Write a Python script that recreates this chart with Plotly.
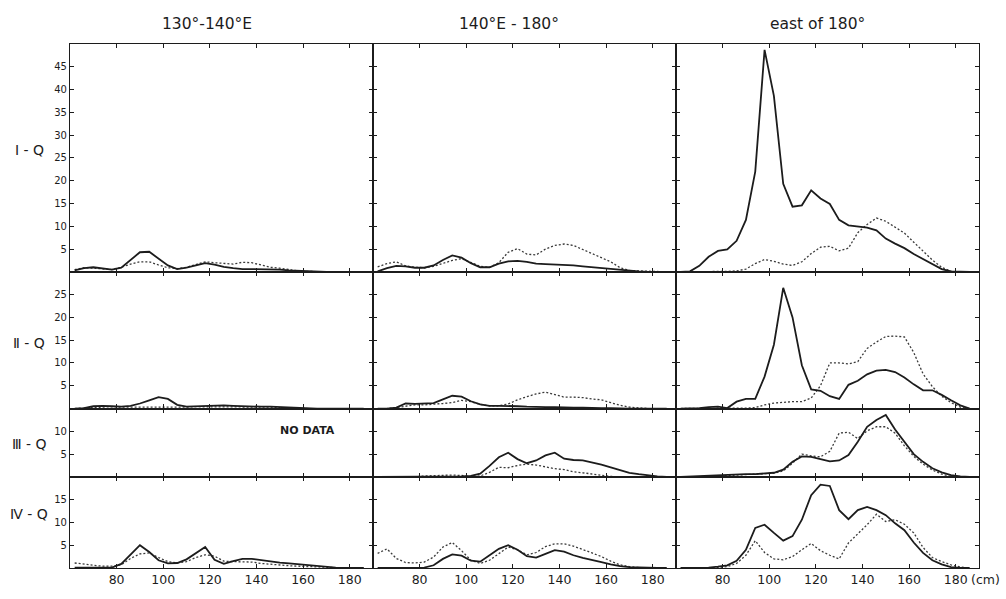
import plotly.graph_objects as go

# Body length classes (cm) at which the frequencies are tabulated
LENGTH_CM = [62, 66, 70, 74, 78, 82, 86, 90, 94, 98, 102, 106, 110, 114, 118, 122,
             126, 130, 134, 138, 142, 146, 150, 154, 158, 162, 166, 170, 174, 178, 182, 186]

COLUMN_TITLES = ["130°-140°E", "140°E - 180°", "east of 180°"]
ROW_TITLES = ["Ⅰ - Q", "Ⅱ - Q", "Ⅲ - Q", "Ⅳ - Q"]
ROW_MAX = [50, 30, 15, 20]
ROW_TICKS = [[5, 10, 15, 20, 25, 30, 35, 40, 45],
             [5, 10, 15, 20, 25],
             [5, 10],
             [5, 10, 15]]
X_TICKS = [80, 100, 120, 140, 160, 180]

# ---- quarter I ----
q1_w_solid = [0.3, 0.8, 1.0, 0.7, 0.5, 0.9, 2.6, 4.3, 4.4, 2.9, 1.4, 0.6, 0.9, 1.4, 1.9, 1.6,
              1.1, 0.8, 0.6, 0.6, 0.6, 0.6, 0.5, 0.3, 0.2, 0.1, 0, 0, 0, 0, 0, 0]
q1_w_dotted = [0.5, 0.9, 0.8, 0.6, 0.5, 1.0, 1.7, 2.2, 2.2, 1.5, 0.9, 0.7, 1.0, 1.6, 2.2, 2.0,
               1.8, 1.7, 2.1, 2.0, 1.5, 1.0, 0.8, 0.5, 0.2, 0.1, 0, 0, 0, 0, 0, 0]
q1_m_solid = [0.1, 0.8, 1.3, 1.2, 0.9, 0.9, 1.4, 2.6, 3.6, 3.1, 1.9, 1.0, 1.0, 1.8, 2.3, 2.4,
              2.2, 1.8, 1.7, 1.6, 1.6, 1.4, 1.2, 1.0, 0.8, 0.6, 0.4, 0.2, 0.1, 0, 0, 0]
q1_m_dotted = [1.1, 1.8, 2.2, 1.3, 1.0, 0.9, 1.2, 1.9, 2.5, 2.9, 2.1, 1.2, 1.0, 2.0, 4.3, 5.1,
               3.9, 3.7, 5.0, 5.8, 6.1, 5.8, 4.9, 4.0, 3.2, 2.2, 0.9, 0.3, 0.2, 0.1, 0, 0]
q1_e_solid = [0, 0.1, 1.3, 3.3, 4.6, 4.9, 6.8, 11.4, 22.0, 48.7, 38.6, 19.3, 14.3, 14.6, 17.9, 16.1,
              14.9, 11.4, 10.2, 10.0, 9.7, 9.1, 7.3, 6.2, 5.2, 3.9, 2.8, 1.6, 0.6, 0.1, 0, 0]
q1_e_dotted = [0, 0, 0, 0, 0.1, 0.1, 0.2, 0.6, 1.8, 2.7, 2.3, 1.7, 1.4, 2.2, 4.0, 5.4,
               5.6, 4.6, 5.2, 8.6, 10.4, 11.8, 11.1, 9.8, 8.5, 6.5, 4.6, 2.6, 1.0, 0.1, 0, 0]

# ---- quarter II ----
q2_w_solid = [0, 0.1, 0.5, 0.6, 0.5, 0.4, 0.6, 1.1, 1.8, 2.5, 2.1, 0.8, 0.4, 0.5, 0.6, 0.7,
              0.7, 0.6, 0.5, 0.5, 0.4, 0.4, 0.3, 0.2, 0.1, 0, 0, 0, 0, 0, 0, 0]
q2_w_dotted = [0, 0.1, 0.3, 0.4, 0.4, 0.3, 0.3, 0.3, 0.3, 0.3, 0.3, 0.2, 0.3, 0.4, 0.4, 0.4,
               0.4, 0.4, 0.4, 0.3, 0.3, 0.3, 0.2, 0.1, 0.1, 0, 0, 0, 0, 0, 0, 0]
q2_m_solid = [0, 0, 0.2, 1.1, 1.0, 1.1, 1.2, 2.0, 2.8, 2.6, 1.6, 0.9, 0.6, 0.6, 0.6, 0.5,
              0.4, 0.3, 0.3, 0.3, 0.2, 0.2, 0.2, 0.1, 0.1, 0.1, 0, 0, 0, 0, 0, 0]
q2_m_dotted = [0, 0, 0.2, 0.5, 0.8, 0.8, 0.9, 1.1, 1.3, 1.8, 1.5, 0.9, 0.6, 0.6, 1.0, 1.9,
               2.6, 3.2, 3.6, 3.1, 2.5, 2.5, 2.4, 2.1, 1.9, 1.3, 0.7, 0.3, 0.1, 0, 0, 0]
q2_e_solid = [0, 0, 0.1, 0.3, 0.4, 0.1, 1.5, 2.1, 2.1, 7.0, 14.0, 26.5, 20.0, 9.5, 4.2, 3.9,
              2.7, 2.1, 5.2, 6.1, 7.5, 8.3, 8.5, 8.0, 6.8, 5.3, 4.0, 4.0, 3.0, 1.8, 0.7, 0]
q2_e_dotted = [0, 0, 0, 0, 0, 0, 0, 0.1, 0.2, 0.8, 1.2, 1.4, 1.5, 1.5, 2.3, 5.0,
               10.0, 10.0, 9.8, 10.3, 13.2, 14.6, 15.8, 15.9, 15.7, 12.3, 7.6, 4.8, 2.7, 1.3, 0.3, 0]

# ---- quarter III (no data west of 140°E) ----
q3_m_solid = [0, 0, 0, 0, 0, 0.1, 0.1, 0.1, 0.1, 0.1, 0.2, 0.7, 2.4, 4.3, 5.3, 3.9,
              3.0, 3.6, 4.7, 5.3, 4.0, 3.7, 3.6, 3.2, 2.7, 2.1, 1.5, 0.9, 0.6, 0.3, 0.1, 0]
q3_m_dotted = [0, 0, 0, 0, 0, 0.2, 0.3, 0.3, 0.4, 0.3, 0.1, 0.2, 1.0, 2.1, 2.0, 2.5,
               2.8, 2.6, 2.2, 1.8, 1.6, 1.1, 0.9, 0.6, 0.3, 0.1, 0, 0, 0, 0, 0, 0]
q3_e_solid = [0, 0.1, 0.1, 0.2, 0.3, 0.4, 0.5, 0.6, 0.6, 0.7, 0.9, 1.6, 3.3, 4.5, 4.4, 3.9,
              3.4, 3.6, 4.8, 7.7, 11.0, 12.5, 13.6, 10.4, 7.6, 5.0, 3.3, 1.9, 1.0, 0.4, 0.1, 0]
q3_e_dotted = [0, 0, 0.1, 0.1, 0.2, 0.3, 0.4, 0.5, 0.5, 0.6, 0.8, 1.3, 3.0, 5.0, 4.6, 4.4,
               5.6, 9.6, 9.8, 8.4, 10.1, 11.0, 11.0, 9.6, 6.8, 4.5, 2.8, 1.5, 0.6, 0.1, 0, 0]

# ---- quarter IV ----
q4_w_solid = [0.1, 0.1, 0, 0, 0.1, 0.9, 3.0, 5.0, 3.5, 1.7, 1.0, 1.1, 1.9, 3.2, 4.6, 1.8,
              0.9, 1.5, 2.0, 2.0, 1.7, 1.4, 1.2, 1.0, 0.8, 0.6, 0.4, 0.3, 0.1, 0, 0, 0]
q4_w_dotted = [1.1, 0.8, 0.6, 0.4, 0.4, 0.7, 2.1, 3.1, 3.3, 2.3, 1.4, 1.1, 1.4, 2.3, 2.9, 2.6,
               1.5, 1.4, 1.4, 1.3, 1.0, 0.8, 0.7, 0.5, 0.4, 0.3, 0.2, 0.1, 0, 0, 0, 0]
q4_m_solid = [0, 0, 0, 0, 0, 0.1, 0.6, 2.0, 3.0, 2.7, 1.6, 1.4, 2.8, 4.2, 5.0, 4.0,
              2.6, 2.3, 3.1, 3.9, 3.6, 2.8, 2.2, 1.8, 1.3, 0.8, 0.4, 0.2, 0.1, 0, 0, 0]
q4_m_dotted = [3.2, 4.2, 2.1, 1.2, 1.1, 1.3, 2.4, 4.6, 5.6, 3.8, 1.7, 1.0, 1.7, 3.2, 4.6, 4.0,
               2.9, 3.4, 4.7, 5.3, 5.3, 4.8, 4.1, 3.3, 2.5, 1.5, 0.7, 0.3, 0.1, 0, 0, 0]
q4_e_solid = [0, 0, 0, 0.1, 0.3, 0.6, 1.6, 4.0, 8.8, 9.5, 7.7, 6.0, 7.0, 10.6, 16.0, 18.3,
              18.0, 12.7, 10.7, 12.7, 13.4, 12.7, 11.6, 9.8, 8.3, 5.6, 3.3, 1.7, 0.8, 0.2, 0, 0]
q4_e_dotted = [0, 0, 0, 0, 0.1, 0.3, 1.0, 2.8, 6.0, 3.4, 2.0, 1.8, 2.5, 4.0, 5.4, 3.8,
               2.8, 2.0, 5.5, 7.5, 9.5, 11.8, 10.2, 10.6, 9.6, 7.7, 4.5, 2.3, 1.4, 0.7, 0.2, 0]

PANELS = [
    [(q1_w_solid, q1_w_dotted), (q1_m_solid, q1_m_dotted), (q1_e_solid, q1_e_dotted)],
    [(q2_w_solid, q2_w_dotted), (q2_m_solid, q2_m_dotted), (q2_e_solid, q2_e_dotted)],
    [None, (q3_m_solid, q3_m_dotted), (q3_e_solid, q3_e_dotted)],
    [(q4_w_solid, q4_w_dotted), (q4_m_solid, q4_m_dotted), (q4_e_solid, q4_e_dotted)],
]

FONT = "DejaVu Sans"
INK = "#1c1c1c"
W, H = 1006, 599
M_L, M_R, M_T, M_B = 70, 27, 44, 19
PLOT_W, PLOT_H = W - M_L - M_R, H - M_T - M_B


def px_x(px):
    return (px - M_L) / PLOT_W


def px_y(py):
    return (H - M_B - py) / PLOT_H


fig = go.Figure()
layout = {}
total = sum(ROW_MAX)
y_top = 1.0
for r in range(4):
    h = ROW_MAX[r] / total
    dom = [max(0.0, y_top - h), y_top]
    y_top -= h
    for c in range(3):
        k = r * 3 + c + 1
        sx = "" if k == 1 else str(k)
        layout["xaxis" + sx] = dict(
            domain=[c / 3, (c + 1) / 3], range=[60, 190], anchor="y" + sx,
            tickvals=X_TICKS, ticks="inside", ticklen=4, tickwidth=1.2, tickcolor=INK,
            showticklabels=(r == 3), tickfont=dict(family=FONT, size=12.5, color=INK),
            showline=True, linecolor=INK, linewidth=1.2, mirror="ticks",
            showgrid=False, zeroline=False, fixedrange=True)
        layout["yaxis" + sx] = dict(
            domain=dom, range=[0, ROW_MAX[r]], anchor="x" + sx,
            tickvals=ROW_TICKS[r], ticks="inside", ticklen=4, tickwidth=1.2, tickcolor=INK,
            showticklabels=(c == 0), tickfont=dict(family=FONT, size=10, color=INK),
            showline=True, linecolor=INK, linewidth=1.2, mirror="ticks",
            showgrid=False, zeroline=False, fixedrange=True)
        pair = PANELS[r][c]
        if pair is None:
            # empty panel: keep its frame and ticks
            fig.add_trace(go.Scatter(x=[None], y=[None], xaxis="x" + sx, yaxis="y" + sx,
                                     mode="lines", showlegend=False, hoverinfo="skip"))
            continue
        solid, dotted = pair
        fig.add_trace(go.Scatter(
            x=LENGTH_CM, y=dotted, xaxis="x" + sx, yaxis="y" + sx, mode="lines",
            line=dict(color="#3a3a3a", width=1.3, dash="2px,2px"),
            showlegend=False, hoverinfo="skip"))
        fig.add_trace(go.Scatter(
            x=LENGTH_CM, y=solid, xaxis="x" + sx, yaxis="y" + sx, mode="lines",
            line=dict(color=INK, width=1.8),
            showlegend=False, hoverinfo="skip"))

annotations = []
for title, cx in zip(COLUMN_TITLES, [207, 509, 817]):
    annotations.append(dict(text=title, x=px_x(cx), y=px_y(24), xref="paper", yref="paper",
                            showarrow=False, xanchor="center", yanchor="middle",
                            font=dict(family=FONT, size=15.5, color=INK)))
for title, cy in zip(ROW_TITLES, [152, 350, 453, 525]):
    annotations.append(dict(text=title, x=px_x(29), y=px_y(cy), xref="paper", yref="paper",
                            showarrow=False, xanchor="center", yanchor="middle",
                            font=dict(family=FONT, size=14, color=INK)))
annotations.append(dict(text="<b>NO DATA</b>", x=px_x(307), y=px_y(439), xref="paper",
                        yref="paper", showarrow=False, xanchor="center", yanchor="middle",
                        font=dict(family=FONT, size=11, color=INK)))
annotations.append(dict(text="(cm)", x=px_x(969), y=px_y(592), xref="paper", yref="paper",
                        showarrow=False, xanchor="left", yanchor="middle",
                        font=dict(family=FONT, size=12.5, color=INK)))

fig.update_layout(
    width=W, height=H,
    margin=dict(l=M_L, r=M_R, t=M_T, b=M_B, pad=0),
    paper_bgcolor="white", plot_bgcolor="white",
    annotations=annotations,
    **layout)

fig.write_html("out.html")
